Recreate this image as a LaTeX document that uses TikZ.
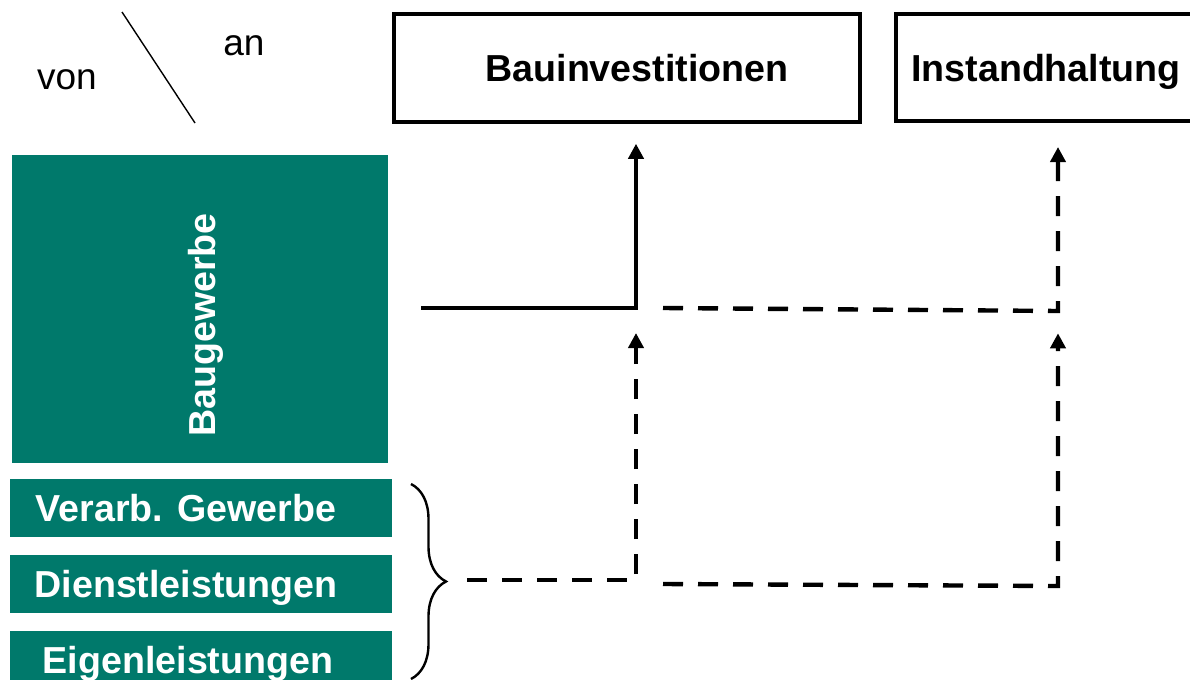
\documentclass[tikz,border=0pt]{standalone}
\usepackage{fontspec}
\setmainfont{Liberation Sans}
\usepackage{tikz}
\usetikzlibrary{positioning,arrows.meta,decorations.pathreplacing}

\definecolor{baugruen}{RGB}{0,121,107}

\begin{document}
\begin{tikzpicture}[%
  x=0.5pt,
  y=-0.5pt,
  >={Triangle[length=7.5pt,width=7.5pt]},
  font=\fontsize{18.5}{22}\selectfont,
  ziel/.style={
    draw,
    line width=2pt,
    inner sep=0pt,},
  gruen/.style={
    fill=baugruen,
    inner sep=0pt,
    minimum width=191pt,
    minimum height=29pt,},
  schrift/.style={
    inner sep=0pt,
    text depth=0pt,
    font=\fontsize{18.8}{22}\selectfont\bfseries,},
  weiss/.style={
    schrift,
    text=white,},
  pil/.style={
    ->,
    line width=2.2pt,},
  strich/.style={
    pil,
    dash pattern=on 10pt off 7.5pt,}
  ]
  \useasboundingbox (0,0) rectangle (1190,680);
  %% Kopf
  \node[anchor=base] (von) at (67,90) {von};
  \node[anchor=base] (an) at (244,55) {an};
  \coordinate (D1) at (122,12);
  \coordinate (D2) at (195,123);
  \draw[line width=0.7pt] (D1) -- (D2);
  \node[ziel, minimum width=233pt, minimum height=54.25pt] (BI) at (627,68) {};
  \node[schrift] (BIt) at ([xshift=5pt]BI.center) {Bauinvestitionen};
  \node[ziel, minimum width=152pt, minimum height=53.5pt] (IH) at (1048,67.5) {};
  \node[schrift] (IHt) at ([xshift=-1pt]IH.center) {Instandhaltung};
  %% Sektoren
  \node[gruen, minimum width=188pt, minimum height=154pt] (BG) at (200,309) {};
  \node[weiss, rotate=90] (BGt) at (201.5,325) {Baugewerbe};
  \node[gruen] (VG) at (201,508) {};
  \node[gruen, below=8.5pt of VG] (DL) {};
  \node[gruen, below=8.5pt of DL] (EL) {};
  \node[weiss] (VGt) at ([xshift=-7.5pt]VG.center) {Verarb. Gewerbe};
  \node[weiss] (DLt) at ([xshift=-7.5pt]DL.center) {Dienstleistungen};
  \node[weiss] (ELt) at ([xshift=-6.5pt]EL.center) {Eigenleistungen};
  %% Klammer
  \coordinate (KL1) at (411,484);
  \coordinate (KL2) at (411,679);
  \draw[line width=1.2pt, decorate, decoration={brace, amplitude=17.5pt}] (KL1) -- (KL2);
  %% Ecken
  \coordinate (S0) at (421,308);
  \coordinate (K1) at (636,308);
  \coordinate (T1) at (663,308);
  \coordinate (K2) at (1058,311);
  \coordinate (C0) at (467,580);
  \coordinate (K3) at (636,580);
  \coordinate (T2) at (663,584);
  \coordinate (K4) at (1058,586);
  %% Edges
  \draw[pil, shorten >=9.75pt] (S0) -- (K1) -- (K1 |- BI.south);
  \draw[strich, shorten >=12pt] (T1) -- (K2) -- (K2 |- IH.south);
  \draw[strich, shorten >=12.5pt] (C0) -- (K3) -- (K1);
  \draw[strich, shorten >=11.15pt] (T2) -- (K4) -- (K2);
\end{tikzpicture}
\end{document}
